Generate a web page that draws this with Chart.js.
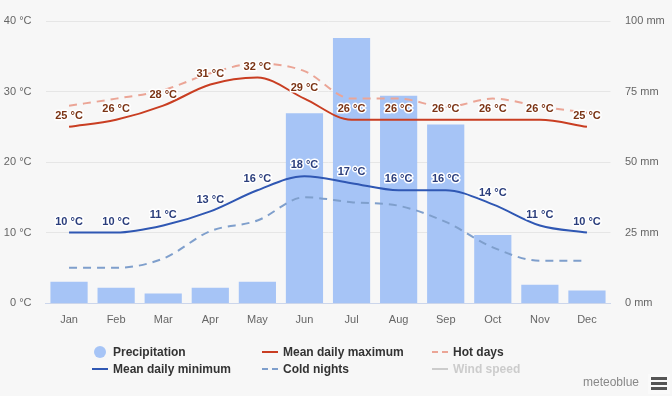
<!DOCTYPE html>
<html>
<head>
<meta charset="utf-8">
<script src="https://cdn.jsdelivr.net/npm/chart.js@4"></script>
<style>
  body { margin: 0; background: #f7f7f7; }
  #wrap { position: relative; width: 672px; height: 396px; background: #f7f7f7; font-family: "Liberation Sans", Arial, sans-serif; }
  #legend .item { position: absolute; font-size: 12px; font-weight: bold; color: #333; line-height: 14px; white-space: nowrap; }
  #legend .sym { position: absolute; left: -21px; top: 0; width: 16px; height: 14px; }
  #brand { position: absolute; left: 583px; top: 375px; font-size: 12px; color: #888; }
  #menu { position: absolute; left: 648px; top: 374px; width: 22px; height: 20px; background: #fafafa; }
  #menu div { position: absolute; left: 3px; width: 16px; height: 3px; background: #555; }
</style>
</head>
<body>
<div id="wrap">
  <canvas id="climate"></canvas>
  <div id="legend"></div>
  <div id="brand">meteoblue</div>
  <div id="menu"><div style="top:3px"></div><div style="top:8px"></div><div style="top:13px"></div></div>
</div>
<script>
const months = ['Jan', 'Feb', 'Mar', 'Apr', 'May', 'Jun', 'Jul', 'Aug', 'Sep', 'Oct', 'Nov', 'Dec'];
const precipitation = [7.5, 5.4, 3.4, 5.4, 7.5, 67.3, 94, 73.5, 63.3, 24.1, 6.5, 4.4];
const meanMax = [25, 26, 28, 31, 32, 29, 26, 26, 26, 26, 26, 25];
const hotDays = [28, 29, 30.2, 32.6, 34, 32.9, 29, 29, 27.8, 29, 27.9, 27];
const meanMin = [10, 10, 11, 13, 16, 18, 17, 16, 16, 14, 11, 10];
const coldNights = [5, 5, 6.3, 10.2, 11.7, 15, 14.3, 13.8, 11.5, 7.9, 6, 6];
const windSpeed = [];
const tempTicks = [0, 10, 20, 30, 40];
const rainTicks = [0, 25, 50, 75, 100];

const FONT = '"Liberation Sans", Arial, sans-serif';

// little value labels above the temperature points
const valueLabels = {
    id: 'valueLabels',
    afterDatasetsDraw(chart) {
        const ctx = chart.ctx;
        chart.data.datasets.forEach((ds, i) => {
            if (!ds.labelColor || !chart.isDatasetVisible(i)) return;
            const meta = chart.getDatasetMeta(i);
            ctx.save();
            ctx.font = 'bold 11px ' + FONT;
            ctx.textAlign = 'center';
            ctx.textBaseline = 'middle';
            ctx.lineJoin = 'round';
            meta.data.forEach((pt, j) => {
                const txt = ds.data[j] + ' °C';
                ctx.strokeStyle = '#ffffff';
                ctx.lineWidth = 3;
                ctx.strokeText(txt, pt.x, pt.y - 11);
                ctx.fillStyle = ds.labelColor;
                ctx.fillText(txt, pt.x, pt.y - 11);
            });
            ctx.restore();
        });
    }
};

const lineDefaults = {
    type: 'line',
    yAxisID: 'temp',
    borderWidth: 2,
    pointRadius: 0,
    cubicInterpolationMode: 'monotone',
    fill: false,
    order: 1
};

const chart = new Chart(document.getElementById('climate'), {
    data: {
        labels: months,
        datasets: [
            {
                type: 'bar',
                label: 'Precipitation',
                data: precipitation,
                yAxisID: 'rain',
                backgroundColor: '#a6c4f6',
                categoryPercentage: 1,
                barPercentage: 0.79,
                order: 10,
                legendShape: 'dot'
            },
            Object.assign({}, lineDefaults, {
                label: 'Mean daily maximum', data: meanMax,
                borderColor: '#c93e22', labelColor: '#7b3415', legendShape: 'line'
            }),
            Object.assign({}, lineDefaults, {
                label: 'Hot days', data: hotDays,
                borderColor: '#eba596', borderDash: [8, 6], legendShape: 'dash'
            }),
            Object.assign({}, lineDefaults, {
                label: 'Mean daily minimum', data: meanMin,
                borderColor: '#2f57b3', labelColor: '#2b3e7c', legendShape: 'line'
            }),
            Object.assign({}, lineDefaults, {
                label: 'Cold nights', data: coldNights,
                borderColor: '#7f9fcc', borderDash: [8, 6], legendShape: 'dash'
            }),
            Object.assign({}, lineDefaults, {
                label: 'Wind speed', data: windSpeed,
                borderColor: '#cccccc', hidden: true, legendShape: 'line'
            })
        ]
    },
    options: {
        responsive: true,
        maintainAspectRatio: false,
        animation: false,
        layout: { padding: { top: 9 } },
        plugins: {
            legend: { display: false },
            tooltip: { enabled: false }
        },
        scales: {
            x: {
                grid: { display: false, drawTicks: false },
                border: { color: '#ccd6eb' },
                ticks: { color: '#666', font: { family: FONT, size: 11 }, padding: 10 },
                afterFit: (s) => { s.height = 93; }
            },
            temp: {
                position: 'left',
                min: 0, max: 40,
                afterBuildTicks: (s) => { s.ticks = tempTicks.map(v => ({ value: v })); },
                grid: { color: '#e6e6e6', drawTicks: false },
                border: { display: false },
                ticks: {
                    color: '#666', font: { family: FONT, size: 11 }, padding: 14,
                    callback: (v) => v + ' °C'
                },
                afterFit: (s) => { s.width = 45.5; }
            },
            rain: {
                position: 'right',
                min: 0, max: 100,
                afterBuildTicks: (s) => { s.ticks = rainTicks.map(v => ({ value: v })); },
                grid: { display: false, drawTicks: false },
                border: { display: false },
                ticks: {
                    color: '#666', font: { family: FONT, size: 11 }, padding: 14.5,
                    callback: (v) => v + ' mm'
                },
                afterFit: (s) => { s.width = 61.5; }
            }
        }
    },
    plugins: [valueLabels]
});

// html legend, laid out in three columns like the original
const legendSpots = [[113, 345], [283, 345], [453, 345], [113, 362], [283, 362], [453, 362]];
const legendOrder = [0, 1, 2, 3, 4, 5];
const legendBox = document.getElementById('legend');
legendOrder.forEach((dsIndex, k) => {
    const ds = chart.data.datasets[dsIndex];
    const item = document.createElement('div');
    item.className = 'item';
    item.style.left = legendSpots[k][0] + 'px';
    item.style.top = legendSpots[k][1] + 'px';
    if (ds.hidden) item.style.color = '#cccccc';
    const sym = document.createElement('canvas');
    sym.className = 'sym';
    sym.width = 16; sym.height = 14;
    const c = sym.getContext('2d');
    const col = ds.hidden ? '#cccccc' : (ds.borderColor || ds.backgroundColor);
    if (ds.legendShape === 'dot') {
        c.fillStyle = ds.backgroundColor;
        c.beginPath(); c.arc(8, 7, 6, 0, Math.PI * 2); c.fill();
    } else {
        c.strokeStyle = col; c.lineWidth = 2;
        if (ds.legendShape === 'dash') c.setLineDash([6, 4]);
        c.beginPath(); c.moveTo(0, 7); c.lineTo(16, 7); c.stroke();
    }
    item.appendChild(sym);
    item.appendChild(document.createTextNode(ds.label));
    legendBox.appendChild(item);
});
</script>
</body>
</html>
